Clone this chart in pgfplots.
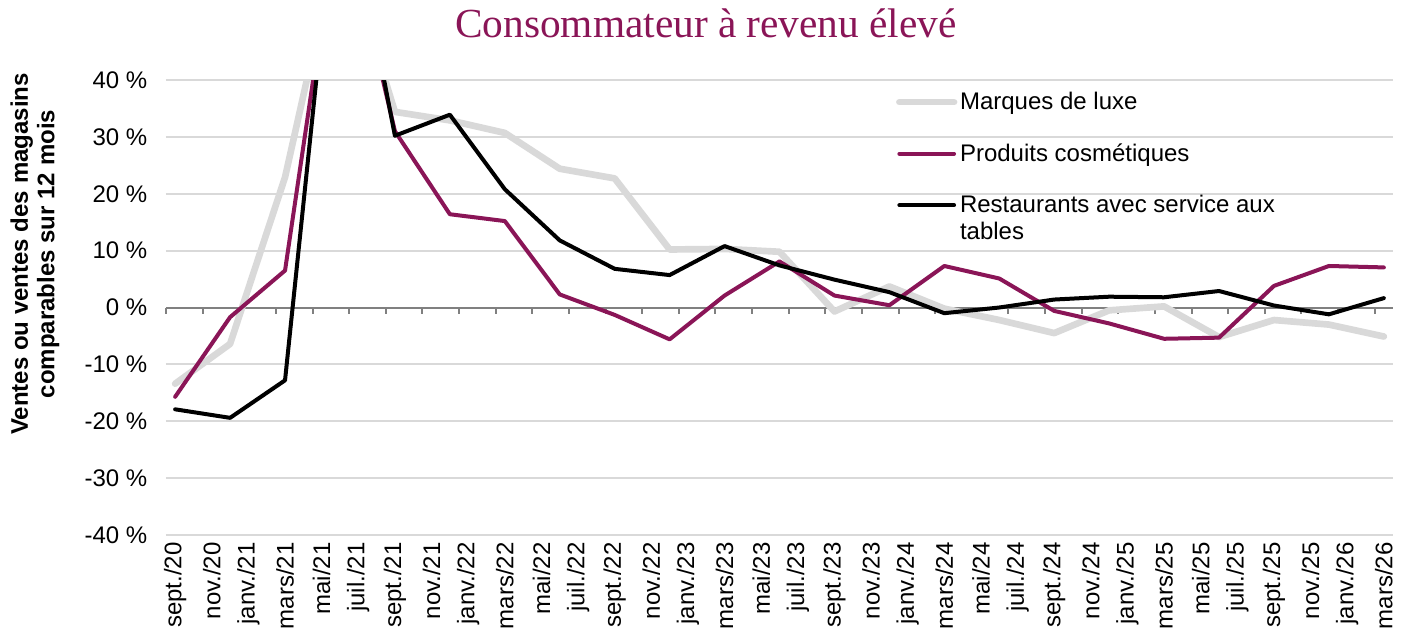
\documentclass[border=0pt]{standalone}
\usepackage{fontspec}
\setmainfont{Liberation Sans}
\newfontfamily\titlefont{Liberation Serif}
\usepackage{pgfplots}
\usepackage{pgfplotstable}
\pgfplotsset{compat=1.18}
\definecolor{cpurple}{RGB}{138,21,87}
\definecolor{cgray}{RGB}{217,217,217}
\definecolor{cgrid}{RGB}{217,217,217}
\definecolor{caxis}{RGB}{128,128,128}

\pgfplotstableread{
m  lux   cos    res
0  -13.4 -15.7  -17.9
3  -6.4  -1.7   -19.4
6  22.9  6.5    -12.8
9  66    72     80
12 34.4  31     30.2
15 32.9  16.4   33.9
18 30.7  15.2   20.8
21 24.4  2.3    11.8
24 22.7  -1.3   6.8
27 10.2  -5.6   5.7
30 10.3  2.1    10.8
33 9.8   8.1    7.4
36 -0.7  2.1    4.9
39 3.7   0.4    2.7
42 -0.2  7.3    -1.0
45 -2.2  5.1    0.0
48 -4.5  -0.6   1.4
51 -0.5  -2.8   1.9
54 0.2   -5.5   1.8
57 -5.2  -5.3   2.9
60 -2.2  3.8    0.35
63 -3.0  7.3    -1.2
66 -5.1  7.05   1.65
}\data

\begin{document}
\begin{tikzpicture}
% zero line with tick marks
\begin{axis}[
  scale only axis, width=920.25pt, height=341.25pt,
  xmin=-0.5, xmax=66.5, ymin=-40, ymax=40,
  axis x line*=middle, axis y line=none,
  xtick={-0.5,1.5,...,65.5}, xticklabels={},
  xtick align=outside, major tick length=4.5pt,
  x axis line style={caxis, line width=1.5pt},
  xtick style={caxis, line width=1.5pt},
  ytick=\empty,
]
\end{axis}
% main axis
\begin{axis}[
  scale only axis, width=920.25pt, height=341.25pt,
  xmin=-0.5, xmax=66.5, ymin=-40, ymax=40,
  axis line style={draw=none}, major tick length=0pt,
  ytick={-40,-30,-20,-10,10,20,30,40},
  yticklabels={-40 \%,-30 \%,-20 \%,-10 \%,10 \%,20 \%,30 \%,40 \%},
  extra y ticks={0}, extra y tick labels={0 \%},
  extra y tick style={grid=none},
  ymajorgrids, grid style={cgrid, line width=1.5pt},
  xtick={0,2,...,66},
  xticklabels={sept./20,nov./20,janv./21,mars/21,mai/21,juil./21,sept./21,nov./21,janv./22,mars/22,mai/22,juil./22,sept./22,nov./22,janv./23,mars/23,mai/23,juil./23,sept./23,nov./23,janv./24,mars/24,mai/24,juil./24,sept./24,nov./24,janv./25,mars/25,mai/25,juil./25,sept./25,nov./25,janv./26,mars/26},
  xticklabel style={rotate=90, anchor=east},
  tick label style={font=\fontsize{18}{20}\selectfont},
  yticklabel shift=10.5pt, xticklabel shift=2pt,
  ylabel={Ventes ou ventes des magasins\\comparables sur 12 mois},
  ylabel style={font=\bfseries\fontsize{18}{20}\selectfont, align=center,
    at={(axis description cs:-0.1068,0.6176)}, anchor=center},
  legend style={at={(axis description cs:0.5915,0.985)}, anchor=north west,
    draw=none, fill=none, font=\fontsize{18}{20}\selectfont,
    row sep=20pt},
  legend cell align=left,
  legend image code/.code={\draw[#1] (0pt,0pt) -- (41pt,0pt);},
]
\addplot[cgray, line width=5pt, line cap=round, line join=round] table[x=m,y=lux]{\data};
\addlegendentry{Marques de luxe}
\addplot[cpurple, line width=3pt, line cap=round, line join=round] table[x=m,y=cos]{\data};
\addlegendentry{Produits cosmétiques}
\addplot[black, line width=3pt, line cap=round, line join=round] table[x=m,y=res]{\data};
\addlegendentry{\makebox[0pt][l]{\raisebox{-20.25pt}[0pt][0pt]{tables}}Restaurants avec service aux}
\end{axis}
\node[font=\titlefont\fontsize{31}{36}\selectfont, text=cpurple, anchor=base] at (405pt,373.3pt) {Consommateur à revenu élevé};
\pgfresetboundingbox
\path[use as bounding box] (-124.5pt,-76.5pt) rectangle (931.5pt,401.25pt);
\end{tikzpicture}
\end{document}
